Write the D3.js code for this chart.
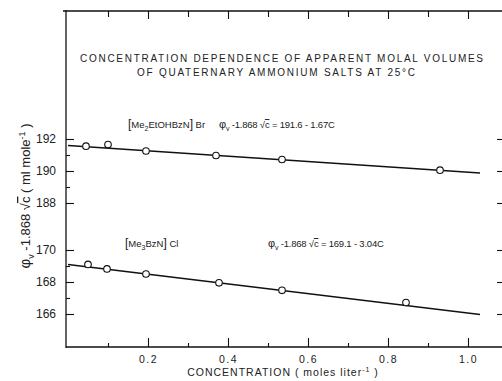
<!DOCTYPE html>
<html>
<head>
<meta charset="utf-8">
<script src="https://cdn.jsdelivr.net/npm/d3@7"></script>
<style>
  body { margin: 0; background: #fff; }
  text { font-family: "Liberation Sans", "DejaVu Sans", sans-serif; fill: #222; }
  .tick line { stroke: #111; }
</style>
</head>
<body>
<div id="chart"></div>
<script>
// concentration (moles/liter) and phi_v - 1.868 sqrt(c) (ml/mole)
const concBr = [0.045, 0.10, 0.195, 0.37, 0.535, 0.93];
const volBr = [191.55, 191.65, 191.25, 190.97, 190.72, 190.05];
const concCl = [0.05, 0.0975, 0.195, 0.3775, 0.535, 0.845];
const volCl = [169.1, 168.82, 168.5, 167.95, 167.48, 166.72];

// fitted lines: intercept, slope
const fitBr = [191.6, -1.67];
const fitCl = [169.1, -3.04];
const fitRange = [0, 1.03];

const xMajor = [0.2, 0.4, 0.6, 0.8, 1.0];
const xMinor = [0.1, 0.3, 0.5, 0.7, 0.9];
const yUpMajor = [188, 190, 192];
const yUpMinor = [189, 191];
const yLoMajor = [166, 168, 170];
const yLoMinor = [167, 169];

const width = 502, height = 381;
const frameLeft = 66, frameRight = 504, frameTop = 11, frameBottom = 347;

const svg = d3.select("#chart").append("svg")
    .attr("width", width)
    .attr("height", height);

const x = d3.scaleLinear().domain([0, 1]).range([68, 468]);
const yUp = d3.scaleLinear().domain([188, 192]).range([203, 139]);
const yLo = d3.scaleLinear().domain([166, 170]).range([314, 250]);

// frame
const frame = svg.append("g").attr("stroke", "#111").attr("stroke-width", 1.3);
frame.append("line").attr("x1", 63).attr("x2", width).attr("y1", frameTop).attr("y2", frameTop);
frame.append("line").attr("x1", frameLeft).attr("x2", frameLeft).attr("y1", frameTop - 1).attr("y2", frameBottom + 1);
frame.append("line").attr("x1", frameLeft).attr("x2", width).attr("y1", frameBottom).attr("y2", frameBottom);

function addAxis(axis, transform, labels) {
    const g = svg.append("g").attr("transform", transform).call(axis);
    g.select(".domain").remove();
    g.selectAll(".tick line").attr("stroke-width", 1.1);
    if (!labels) g.selectAll("text").remove();
    return g;
}

// x axes
const xb = addAxis(d3.axisBottom(x).tickValues(xMajor).tickSize(-9).tickPadding(9).tickFormat(d3.format(".1f")),
    `translate(0,${frameBottom})`, true);
xb.selectAll("text").attr("font-size", 10.5).attr("letter-spacing", 1.5).attr("fill", "#333");
addAxis(d3.axisBottom(x).tickValues(xMinor).tickSize(-4), `translate(0,${frameBottom})`, false);
addAxis(d3.axisTop(x).tickValues(xMajor).tickSize(-8), `translate(0,${frameTop})`, false);
addAxis(d3.axisTop(x).tickValues(xMinor).tickSize(-6), `translate(0,${frameTop})`, false);

// y axes (broken scale, two ranges)
[[yUp, yUpMajor, yUpMinor], [yLo, yLoMajor, yLoMinor]].forEach(([sc, maj, min]) => {
    const g = addAxis(d3.axisLeft(sc).tickValues(maj).tickSize(-8).tickPadding(10).tickFormat(d3.format("d")),
        `translate(${frameLeft},0)`, true);
    g.selectAll("text").attr("font-size", 12).attr("fill", "#333");
    addAxis(d3.axisLeft(sc).tickValues(min).tickSize(-4), `translate(${frameLeft},0)`, false);
    addAxis(d3.axisRight(sc).tickValues(maj).tickSize(-7), `translate(${frameRight},0)`, false);
});

// fitted lines
const line = d3.line();
[[fitBr, yUp], [fitCl, yLo]].forEach(([f, sc]) => {
    svg.append("path")
        .attr("d", line(fitRange.map(c => [x(c), sc(f[0] + f[1] * c)])))
        .attr("fill", "none")
        .attr("stroke", "#111")
        .attr("stroke-width", 1.5);
});

// points
[[concBr, volBr, yUp], [concCl, volCl, yLo]].forEach(([cs, vs, sc]) => {
    svg.append("g").selectAll("circle")
        .data(cs.map((c, i) => [c, vs[i]]))
        .enter().append("circle")
        .attr("cx", d => x(d[0]))
        .attr("cy", d => sc(d[1]))
        .attr("r", 3.3)
        .attr("fill", "#fff")
        .attr("stroke", "#111")
        .attr("stroke-width", 1.1);
});

// title
svg.append("text").attr("x", 80).attr("y", 62).attr("font-size", 10)
    .attr("textLength", 403).attr("lengthAdjust", "spacing")
    .text("CONCENTRATION DEPENDENCE OF APPARENT MOLAL VOLUMES");
svg.append("text").attr("x", 137).attr("y", 76).attr("font-size", 10)
    .attr("textLength", 278).attr("lengthAdjust", "spacing")
    .text("OF QUATERNARY AMMONIUM SALTS AT 25°C");

// series labels
function saltLabel(xp, yp, pre, sub, post) {
    const t = svg.append("text").attr("x", xp).attr("y", yp).attr("font-size", 9.5);
    t.append("tspan").attr("font-size", 12).text("[");
    t.append("tspan").text(pre);
    t.append("tspan").attr("font-size", 7).attr("dy", 3).text(sub);
    t.append("tspan").attr("dy", -3).text(post[0]);
    t.append("tspan").attr("font-size", 12).text("]");
    t.append("tspan").text(" " + post[1]);
}
function eqLabel(xp, yp, rhs) {
    const t = svg.append("text").attr("x", xp).attr("y", yp).attr("font-size", 9.5).attr("letter-spacing", -0.2);
    t.append("tspan").attr("font-size", 11).text("φ");
    t.append("tspan").attr("font-size", 7).attr("dy", 3).text("v");
    t.append("tspan").attr("dy", -3).text(" -1.868 √");
    t.append("tspan").style("text-decoration", "overline").text("c");
    t.append("tspan").text(" = " + rhs);
}
saltLabel(128, 128, "Me", "2", ["EtOHBzN", "Br"]);
eqLabel(219, 128, "191.6 - 1.67C");
saltLabel(125, 247, "Me", "3", ["BzN", "Cl"]);
eqLabel(268, 247, "169.1 - 3.04C");

// axis titles
const xt = svg.append("text").attr("x", 283).attr("y", 376).attr("text-anchor", "middle")
    .attr("font-size", 10.5).attr("letter-spacing", 1);
xt.append("tspan").text("CONCENTRATION  ( moles liter");
xt.append("tspan").attr("font-size", 7).attr("dy", -4).text("-1");
xt.append("tspan").attr("dy", 4).text(" )");

const yt = svg.append("text").attr("transform", "translate(30,196) rotate(-90)")
    .attr("text-anchor", "middle").attr("font-size", 13).attr("fill", "#111");
yt.append("tspan").attr("font-size", 15).text("φ");
yt.append("tspan").attr("font-size", 9).attr("dy", 4).text("v");
yt.append("tspan").attr("dy", -4).text(" -1.868 √");
yt.append("tspan").style("text-decoration", "overline").text("c");
yt.append("tspan").text(" ( ml mole");
yt.append("tspan").attr("font-size", 9).attr("dy", -5).text("-1");
yt.append("tspan").attr("dy", 5).text(" )");
</script>
</body>
</html>
